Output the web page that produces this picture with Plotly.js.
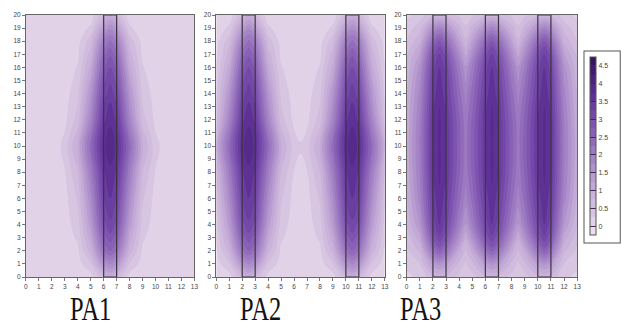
<!DOCTYPE html>
<html>
<head>
<meta charset="utf-8">
<script src="https://cdn.plot.ly/plotly-3.0.1.min.js"></script>
<style>html,body{margin:0;padding:0;background:#fff;}#chart{width:621px;height:327px;}</style>
</head>
<body>
<div id="chart"></div>
<script>
// grid nodes
const xNodes = [0,1,2,2.5,3,4,5,6,6.5,7,8,9,10,10.5,11,12,13];
const xNodes3 = [0,1,2,2.5,3,4,4.5,5,6,6.5,7,8,8.5,9,10,10.5,11,12,13];
const yNodes = [0,1,2,3,4,6,8,10,12,14,16,17,18,19,20];
const xTickLabels = ['0','1','2','3','4','5','6','7','8','9','10','11','12','13'];
const yTickLabels = ['0','1','2','3','4','5','6','7','8','9','10','11','12','13','14','15','16','17','18','19','20'];
const panelTitles = ['PA1','PA2','PA3'];

// PA1 values (rows = yNodes, cols = xNodes)
const pa1 = [
 [0.1,0.1,0.1,0.1,0.1,0.1,0.13,0.72,1.0,0.72,0.13,0.1,0.1,0.1,0.1,0.1,0.1],
 [0.1,0.1,0.1,0.1,0.1,0.13,0.47,1.54,1.8,1.54,0.47,0.13,0.1,0.1,0.1,0.1,0.1],
 [0.1,0.1,0.1,0.1,0.1,0.2,0.88,2.21,2.5,2.21,0.88,0.2,0.1,0.1,0.1,0.1,0.1],
 [0.1,0.1,0.1,0.1,0.11,0.29,1.15,2.61,2.9,2.61,1.15,0.29,0.11,0.1,0.1,0.1,0.1],
 [0.1,0.1,0.1,0.1,0.13,0.38,1.4,2.91,3.2,2.91,1.4,0.38,0.13,0.1,0.1,0.1,0.1],
 [0.1,0.1,0.1,0.11,0.16,0.54,1.73,3.23,3.5,3.23,1.73,0.54,0.16,0.11,0.1,0.1,0.1],
 [0.1,0.1,0.11,0.15,0.23,0.75,2.04,3.46,3.7,3.46,2.04,0.75,0.23,0.15,0.11,0.1,0.1],
 [0.1,0.1,0.14,0.2,0.34,1.04,2.39,3.69,3.9,3.69,2.39,1.04,0.34,0.2,0.14,0.1,0.1],
 [0.1,0.1,0.1,0.12,0.18,0.62,1.9,3.43,3.7,3.43,1.9,0.62,0.18,0.12,0.1,0.1,0.1],
 [0.1,0.1,0.1,0.1,0.14,0.43,1.54,3.1,3.4,3.1,1.54,0.43,0.14,0.1,0.1,0.1,0.1],
 [0.1,0.1,0.1,0.1,0.1,0.27,1.1,2.68,3.0,2.68,1.1,0.27,0.1,0.1,0.1,0.1,0.1],
 [0.1,0.1,0.1,0.1,0.1,0.19,0.88,2.37,2.7,2.37,0.88,0.19,0.1,0.1,0.1,0.1,0.1],
 [0.1,0.1,0.1,0.1,0.1,0.15,0.66,1.99,2.3,1.99,0.66,0.15,0.1,0.1,0.1,0.1,0.1],
 [0.1,0.1,0.1,0.1,0.1,0.1,0.3,1.37,1.7,1.37,0.3,0.1,0.1,0.1,0.1,0.1,0.1],
 [0.1,0.1,0.1,0.1,0.1,0.1,0.1,0.68,1.0,0.68,0.1,0.1,0.1,0.1,0.1,0.1,0.1]
];

// PA2 values
const pa2 = [
 [0.1,0.13,0.72,1.0,0.72,0.13,0.1,0.1,0.1,0.1,0.1,0.13,0.72,1.0,0.72,0.13,0.1],
 [0.13,0.47,1.54,1.8,1.54,0.47,0.13,0.1,0.1,0.1,0.13,0.47,1.54,1.8,1.54,0.47,0.13],
 [0.2,0.88,2.21,2.5,2.21,0.88,0.2,0.1,0.1,0.1,0.2,0.88,2.21,2.5,2.21,0.88,0.2],
 [0.29,1.15,2.61,2.9,2.61,1.15,0.29,0.11,0.1,0.11,0.29,1.15,2.61,2.9,2.61,1.15,0.29],
 [0.38,1.4,2.91,3.2,2.91,1.4,0.38,0.13,0.1,0.13,0.38,1.4,2.91,3.2,2.91,1.4,0.38],
 [0.54,1.73,3.23,3.5,3.23,1.73,0.54,0.16,0.12,0.16,0.54,1.73,3.23,3.5,3.23,1.73,0.54],
 [0.75,2.04,3.46,3.7,3.46,2.04,0.75,0.24,0.2,0.24,0.75,2.04,3.46,3.7,3.46,2.04,0.75],
 [1.04,2.39,3.69,3.9,3.69,2.39,1.04,0.38,0.27,0.38,1.04,2.39,3.69,3.9,3.69,2.39,1.04],
 [0.62,1.9,3.43,3.7,3.43,1.9,0.62,0.18,0.14,0.18,0.62,1.9,3.43,3.7,3.43,1.9,0.62],
 [0.43,1.54,3.1,3.4,3.1,1.54,0.43,0.14,0.1,0.14,0.43,1.54,3.1,3.4,3.1,1.54,0.43],
 [0.27,1.1,2.68,3.0,2.68,1.1,0.27,0.1,0.1,0.1,0.27,1.1,2.68,3.0,2.68,1.1,0.27],
 [0.19,0.88,2.37,2.7,2.37,0.88,0.19,0.1,0.1,0.1,0.19,0.88,2.37,2.7,2.37,0.88,0.19],
 [0.15,0.66,1.99,2.3,1.99,0.66,0.15,0.1,0.1,0.1,0.15,0.66,1.99,2.3,1.99,0.66,0.15],
 [0.1,0.3,1.37,1.7,1.37,0.3,0.1,0.1,0.1,0.1,0.1,0.3,1.37,1.7,1.37,0.3,0.1],
 [0.1,0.1,0.68,1.0,0.68,0.1,0.1,0.1,0.1,0.1,0.1,0.1,0.68,1.0,0.68,0.1,0.1]
];

// PA3 values (rows = yNodes, cols = xNodes3)
const pa3 = [
 [0.2,0.3,0.7,0.8,0.7,0.4,0.3,0.4,0.7,0.8,0.7,0.4,0.3,0.4,0.7,0.8,0.7,0.3,0.2],
 [0.3,0.5,1.35,1.6,1.35,0.7,0.45,0.7,1.35,1.6,1.35,0.7,0.45,0.7,1.35,1.6,1.35,0.5,0.3],
 [0.45,0.8,2.2,2.6,2.2,1.1,0.7,1.1,2.2,2.6,2.2,1.1,0.7,1.1,2.2,2.6,2.2,0.8,0.45],
 [0.6,1.15,2.8,3.2,2.8,1.6,1.05,1.6,2.8,3.2,2.8,1.6,1.05,1.6,2.8,3.2,2.8,1.15,0.6],
 [0.75,1.5,3.1,3.5,3.1,2.0,1.45,2.0,3.1,3.5,3.1,2.0,1.45,2.0,3.1,3.5,3.1,1.5,0.75],
 [0.95,1.85,3.35,3.7,3.35,2.35,1.9,2.35,3.35,3.7,3.35,2.35,1.9,2.35,3.35,3.7,3.35,1.85,0.95],
 [1.05,2.0,3.5,3.8,3.5,2.55,2.1,2.55,3.5,3.8,3.5,2.55,2.1,2.55,3.5,3.8,3.5,2.0,1.05],
 [1.1,2.05,3.5,3.8,3.5,2.6,2.15,2.6,3.5,3.8,3.5,2.6,2.15,2.6,3.5,3.8,3.5,2.05,1.1],
 [1.05,2.0,3.5,3.8,3.5,2.55,2.1,2.55,3.5,3.8,3.5,2.55,2.1,2.55,3.5,3.8,3.5,2.0,1.05],
 [0.95,1.85,3.35,3.7,3.35,2.35,1.9,2.35,3.35,3.7,3.35,2.35,1.9,2.35,3.35,3.7,3.35,1.85,0.95],
 [0.8,1.6,3.15,3.5,3.15,2.05,1.55,2.05,3.15,3.5,3.15,2.05,1.55,2.05,3.15,3.5,3.15,1.6,0.8],
 [0.7,1.3,2.9,3.3,2.9,1.7,1.15,1.7,2.9,3.3,2.9,1.7,1.15,1.7,2.9,3.3,2.9,1.3,0.7],
 [0.5,0.95,2.4,2.8,2.4,1.3,0.8,1.3,2.4,2.8,2.4,1.3,0.8,1.3,2.4,2.8,2.4,0.95,0.5],
 [0.35,0.65,1.6,1.9,1.6,0.85,0.55,0.85,1.6,1.9,1.6,0.85,0.55,0.85,1.6,1.9,1.6,0.65,0.35],
 [0.2,0.35,0.7,0.8,0.7,0.45,0.35,0.45,0.7,0.8,0.7,0.45,0.35,0.45,0.7,0.8,0.7,0.35,0.2]
];

// measurement strips (left edge of each 1-unit column)
const pa1Strips = [6];
const pa2Strips = [2,10];
const pa3Strips = [2,6,10];
const stripWidth = 1;
const colorbarTicks = [0,0.5,1,1.5,2,2.5,3,3.5,4,4.5];
const colorbarTickText = ['0','0.5','1','1.5','2','2.5','3','3.5','4','4.5'];

const cscale = [
  [0.00,'#ece0f0'],
  [0.10,'#d9c6e1'],
  [0.25,'#c5acd7'],
  [0.45,'#a07ec3'],
  [0.65,'#7b50ae'],
  [0.80,'#5d2f95'],
  [0.92,'#472178'],
  [1.00,'#341660']
];

function makeTrace(xs, z, ix, showScale){
  const sfx = ix === 1 ? '' : String(ix);
  return {
    type:'contour', x:xs, y:yNodes, z:z,
    xaxis:'x'+sfx, yaxis:'y'+sfx,
    zmin:-0.25, zmax:4.75, zauto:false,
    colorscale:cscale,
    contours:{start:0, end:4.5, size:0.25, coloring:'fill'},
    line:{width:0, smoothing:1.2},
    hoverinfo:'skip',
    showscale:showScale,
    colorbar: showScale ? {
      x:587/621, xanchor:'left', y:1-146/327, yanchor:'middle',
      len:190/327, lenmode:'fraction', thickness:6,
      outlinewidth:1, outlinecolor:'#555',
      bordercolor:'#555', borderwidth:1, xpad:5, ypad:6,
      tickvals:colorbarTicks, ticktext:colorbarTickText,
      ticks:'inside', ticklen:6, tickcolor:'#3b2a58', tickwidth:1,
      tickfont:{family:'Liberation Sans, Arial, sans-serif', size:7, color:'#444'}
    } : undefined
  };
}

const traces = [makeTrace(xNodes,pa1,1,false), makeTrace(xNodes,pa2,2,false), makeTrace(xNodes3,pa3,3,true)];

const xDomains = [[26/621,195/621],[217/621,386/621],[408/621,579/621]];
const yDomain = [1-277/327, 1-15/327];

function axisX(dom, anchor){
  return {domain:dom, anchor:anchor, range:[0,13], tickmode:'array',
    tickvals:xTickLabels.map(Number), ticktext:xTickLabels,
    showgrid:false, zeroline:false, showline:true, mirror:true, linecolor:'#666', linewidth:1,
    ticks:'outside', ticklen:3, tickcolor:'#777', tickfont:{family:'Liberation Sans, Arial, sans-serif', size:6.5, color:'#444'}};
}
function axisY(anchor){
  return {domain:yDomain, anchor:anchor, range:[0,20], tickmode:'array',
    tickvals:yTickLabels.map(Number), ticktext:yTickLabels,
    showgrid:false, zeroline:false, showline:true, mirror:true, linecolor:'#666', linewidth:1,
    ticks:'outside', ticklen:3, tickcolor:'#777', tickfont:{family:'Liberation Sans, Arial, sans-serif', size:6.5, color:'#444'}};
}

const shapes = [];
[[pa1Strips,''],[pa2Strips,'2'],[pa3Strips,'3']].forEach(([arr,s])=>{
  arr.forEach(c=>{
    shapes.push({type:'rect', xref:'x'+s, yref:'y'+s, x0:c, x1:c+stripWidth, y0:yNodes[0], y1:yNodes[yNodes.length-1],
      line:{color:'#3c3440', width:1.2}, fillcolor:'rgba(0,0,0,0)', layer:'above'});
  });
});

const titleX = [91/621, 261/621, 422/621];
const annotations = panelTitles.map((t,i)=>({
  text:t, xref:'paper', yref:'paper', x:titleX[i], y:-2/327, xanchor:'center', yanchor:'bottom',
  showarrow:false, font:{family:'Liberation Serif, Times New Roman, serif', size:34, color:'#111'}
}));

const layout = {
  width:621, height:327, margin:{l:0,r:0,t:0,b:0},
  paper_bgcolor:'#fff', plot_bgcolor:'#fff', showlegend:false,
  xaxis:axisX(xDomains[0],'y'), yaxis:axisY('x'),
  xaxis2:axisX(xDomains[1],'y2'), yaxis2:axisY('x2'),
  xaxis3:axisX(xDomains[2],'y3'), yaxis3:axisY('x3'),
  shapes:shapes, annotations:annotations
};

Plotly.newPlot('chart', traces, layout, {displayModeBar:false, staticPlot:true}).then(gd=>{
  // condense the serif panel titles horizontally (the original lettering is narrow)
  gd.querySelectorAll('.annotation-text').forEach(t=>{
    const b = t.getBBox();
    const cx = b.x + b.width/2;
    t.setAttribute('transform', 'translate('+cx+',0) scale(0.72,1) translate('+(-cx)+',0)');
  });
});
</script>
</body>
</html>
